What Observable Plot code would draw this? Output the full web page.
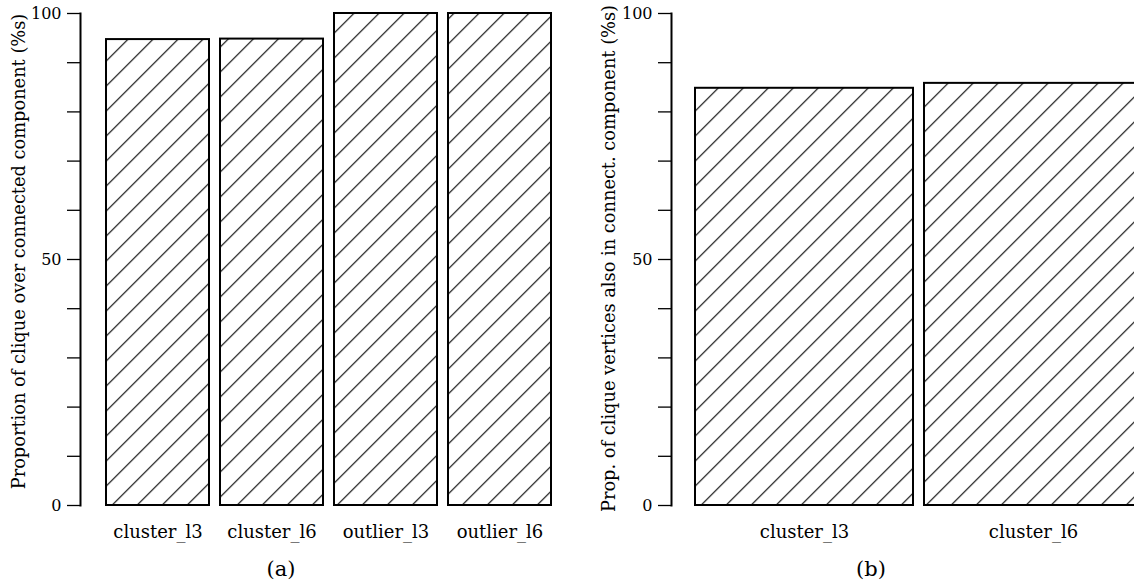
<!DOCTYPE html>
<html>
<head>
<meta charset="utf-8">
<script src="https://cdn.jsdelivr.net/npm/d3@7"></script>
<script src="https://cdn.jsdelivr.net/npm/@observablehq/plot@0.6"></script>
<style>
  html, body { margin: 0; padding: 0; background: #fff; overflow: hidden; }
  #row { display: flex; width: 1134px; height: 585px; }
  .panel { position: relative; width: 567px; height: 585px; overflow: hidden; }
  .panel svg { display: block; }
  .cap { position: absolute; width: 100px; text-align: center; font-family: "DejaVu Serif", serif; font-size: 21px; line-height: 24px; color: #000; }
</style>
</head>
<body>
<div id="row">
  <div class="panel" id="pa"><div class="cap" id="capA">(a)</div></div>
  <div class="panel" id="pb"><div class="cap" id="capB">(b)</div></div>
</div>
<script>
// ---- data ----
const categoriesA = ["cluster_l3", "cluster_l6", "outlier_l3", "outlier_l6"];
const valuesA = [94.7, 94.8, 100, 100];
const categoriesB = ["cluster_l3", "cluster_l6"];
const valuesB = [84.8, 85.8];
const yTickValues = [0, 10, 20, 30, 40, 50, 60, 70, 80, 90, 100];
const yTickLabelValues = [0, 50, 100];
const titleA = "Proportion of clique over connected component (%s)";
const titleB = "Prop. of clique vertices also in connect. component (%s)";
const captionA = "(a)";
const captionB = "(b)";

const dataA = categoriesA.map((c, i) => ({cat: c, value: valuesA[i]}));
const dataB = categoriesB.map((c, i) => ({cat: c, value: valuesB[i]}));

function addHatch(svg, id, offset) {
  const defs = d3.select(svg).insert("defs", ":first-child");
  const p = defs.append("pattern")
    .attr("id", id)
    .attr("patternUnits", "userSpaceOnUse")
    .attr("x", offset).attr("y", 0)
    .attr("width", 25).attr("height", 25);
  p.append("rect").attr("width", 25).attr("height", 25).attr("fill", "white");
  p.append("path")
    .attr("d", "M0,25L25,0M-5,5L5,-5M20,30L30,20")
    .attr("stroke", "black").attr("stroke-width", 1.1).attr("fill", "none");
}

function makeChart({data, cats, id, offset, marginLeft, range, paddingInner, paddingOuter, title, titleDx, titleDy}) {
  const svg = Plot.plot({
    width: 567,
    height: 548,
    marginTop: 13,
    marginBottom: 43,
    marginLeft,
    marginRight: 0,
    style: {fontFamily: "DejaVu Serif, serif", fontSize: "16px", background: "white", color: "black"},
    x: {domain: cats, range, paddingInner, paddingOuter, label: null},
    y: {domain: [0, 100], label: null},
    marks: [
      Plot.barY(data, {x: "cat", y: "value", fill: `url(#${id})`, stroke: "black", strokeWidth: 2}),
      Plot.axisY({ticks: yTickValues, tickSize: 13, tickPadding: 6, strokeWidth: 1.3, fontSize: 16,
        tickFormat: d => yTickLabelValues.includes(d) ? String(d) : "", label: null}),
      Plot.axisX({tickSize: 0, tickPadding: 20, fontSize: 18, label: null}),
      Plot.frame({anchor: "left", strokeWidth: 2}),
      Plot.text([title], {text: d => d, frameAnchor: "left", rotate: -90, dx: titleDx, dy: titleDy, fontSize: 17.8, textAnchor: "middle"})
    ]
  });
  addHatch(svg, id, offset);
  return svg;
}

const svgA = makeChart({
  data: dataA, cats: categoriesA, id: "hatchA", offset: 17.3, marginLeft: 80,
  range: [99, 557.5], paddingInner: 0.098, paddingOuter: 0.049,
  title: titleA, titleDx: -61, titleDy: -8
});
const svgB = makeChart({
  data: dataB, cats: categoriesB, id: "hatchB", offset: 14.3, marginLeft: 104,
  range: [121.5, 580.5], paddingInner: 0.05, paddingOuter: 0.025,
  title: titleB, titleDx: -62, titleDy: -1
});

document.getElementById("pa").prepend(svgA);
document.getElementById("pb").prepend(svgB);

const capA = document.getElementById("capA");
capA.textContent = captionA;
capA.style.left = (281 - 50) + "px";
capA.style.top = "557px";
const capB = document.getElementById("capB");
capB.textContent = captionB;
capB.style.left = (871 - 567 - 50) + "px";
capB.style.top = "557px";
</script>
</body>
</html>
